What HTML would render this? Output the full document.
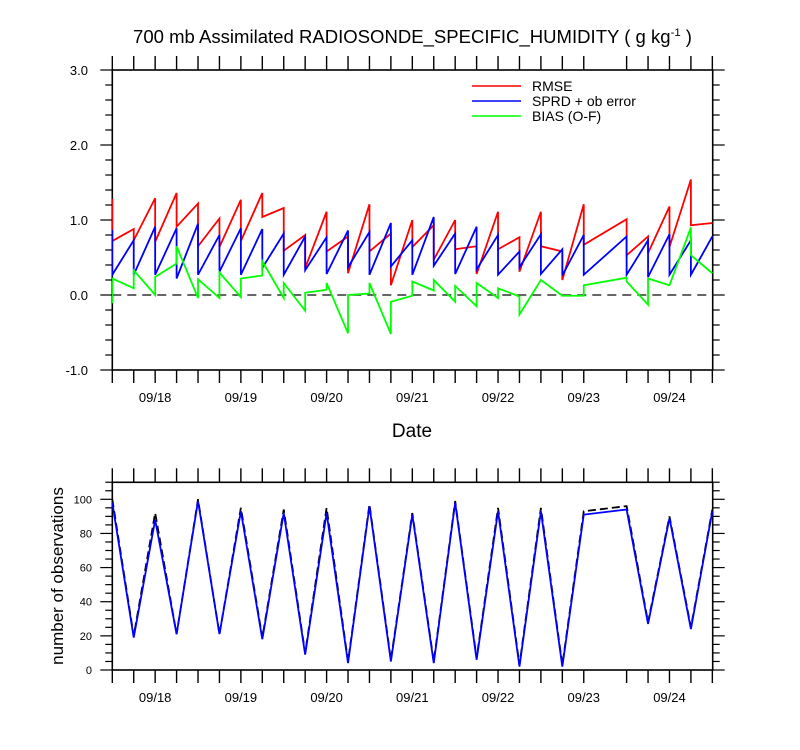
<!DOCTYPE html>
<html><head><meta charset="utf-8"><style>
body{margin:0;background:#fff}
svg{display:block;font-family:"Liberation Sans",sans-serif}
</style></head><body>
<svg id="chart" width="800" height="750" xmlns="http://www.w3.org/2000/svg">
<rect width="800" height="750" fill="#fff"/>
<text x="133" y="43" font-size="18" textLength="559" lengthAdjust="spacingAndGlyphs">700 mb Assimilated RADIOSONDE_SPECIFIC_HUMIDITY ( g kg<tspan font-size="11" dy="-7">-1</tspan><tspan dy="7"> )</tspan></text>
<defs>
<clipPath id="c1"><rect x="112" y="70" width="601" height="300"/></clipPath>
<clipPath id="c2"><rect x="112" y="482" width="601" height="188"/></clipPath>
</defs>
<g id="topPlot"></g>
<g id="botPlot"></g>
<g>
<line x1="472" y1="86" x2="521" y2="86" stroke="#f00" stroke-width="1.5"/>
<text x="532" y="91" font-size="14">RMSE</text>
<line x1="472" y1="101" x2="521" y2="101" stroke="#00f" stroke-width="1.5"/>
<text x="532" y="106" font-size="14">SPRD + ob error</text>
<line x1="472" y1="116" x2="521" y2="116" stroke="#0f0" stroke-width="1.5"/>
<text x="532" y="121" font-size="14">BIAS (O-F)</text>
</g>
<text x="412" y="437" font-size="19" text-anchor="middle">Date</text>
<text transform="translate(63,576) rotate(-90)" font-size="17" text-anchor="middle">number of observations</text>
</svg>
<script>
const times = [0,1,2,3,4,5,6,7,8,9,10,11,12,13,14,15,16,17,18,19,20,21,22,24,25,26,27,28];
const rmseA = [1.28,0.88,1.29,1.36,1.22,1.02,1.27,1.36,1.16,0.80,1.11,0.78,1.21,0.82,1.00,0.93,1.00,0.65,1.11,0.77,1.11,0.58,1.21,1.01,0.78,1.18,1.54,0.96];
const rmseB = [0.72,0.73,0.71,0.91,0.65,0.64,0.72,1.04,0.59,0.36,0.58,0.29,0.58,0.13,0.64,0.47,0.61,0.28,0.61,0.31,0.65,0.20,0.67,0.53,0.56,0.64,0.93,0.96];
const sprdA = [0.87,0.73,0.91,0.89,0.95,0.80,0.89,0.88,0.82,0.78,0.77,0.86,0.84,0.96,0.73,1.04,0.82,0.91,0.80,0.58,0.81,0.61,0.80,0.78,0.73,0.81,0.73,0.78];
const sprdB = [0.27,0.27,0.27,0.22,0.27,0.31,0.27,0.36,0.27,0.33,0.28,0.37,0.27,0.38,0.27,0.39,0.28,0.34,0.27,0.37,0.28,0.26,0.27,0.27,0.24,0.27,0.27,0.78];
const biasA = [-0.11,0.09,0.00,0.42,-0.04,-0.04,-0.03,0.26,-0.04,-0.21,0.07,-0.51,0.02,-0.52,-0.01,0.06,-0.09,-0.15,-0.04,-0.02,0.20,-0.01,-0.01,0.23,-0.13,0.13,0.90,0.29];
const biasB = [0.22,0.33,0.24,0.65,0.21,0.30,0.22,0.45,0.16,0.03,0.16,0.00,0.16,-0.09,0.18,0.20,0.12,0.16,0.09,-0.26,0.20,-0.01,0.13,0.18,0.22,0.13,0.53,0.29];
const countUsed = [98,19,88,21,99,21,93,18,92,9,92,4,96,5,91,4,98,6,93,2,93,2,91,94,27,89,24,93];
const countTotal = [100,20,92,21,100,21,95,19,94,10,95,5,97,6,92,5,99,7,95,3,95,3,93,96,28,90,25,94];
const dateLabels = ["09/18","09/19","09/20","09/21","09/22","09/23","09/24"];
const dateIdx = [2,6,10,14,18,22,26];
const topTicks = [-1,0,1,2,3];
const botTicks = [0,20,40,60,80,100];

const NS="http://www.w3.org/2000/svg";
const X0=112.3, DX=21.43;
const xs = i => X0 + DX*i;
const yTop = v => 295 - 75*v;
const yBot = v => 670 - 1.707*v;
function mk(tag, attrs, parent){const e=document.createElementNS(NS,tag);for(const k in attrs)e.setAttribute(k,attrs[k]);parent.appendChild(e);return e;}

function frame(g, L, T, R, B){
  const r=mk('rect',{x:L,y:T,width:R-L,height:B-T,fill:'none',stroke:'#000','stroke-width':1.6},g);
  
  
  for(let i=0;i<=28;i++){ if(i===23) continue;
    const x=xs(i);
    const t1=mk('line',{x1:x,y1:B,x2:x,y2:B+13,stroke:'#000','stroke-width':1.4},g);
    
    
    const t2=mk('line',{x1:x,y1:T,x2:x,y2:T-14,stroke:'#000','stroke-width':1.4},g);
    
    
  }
  dateIdx.forEach((d,k)=>{
    const t=mk('text',{x:xs(d),y:B+32,'font-size':13,'text-anchor':'middle'},g);
    t.textContent=dateLabels[k];
    
    
  });
}

const topG=document.getElementById('topPlot');
frame(topG,112.3,70,712.7,370);
for(let v=-1;v<=3.0001;v+=0.2){
  const y=yTop(v); const major=Math.abs(v-Math.round(v))<1e-6;
  const len=major?12:7;
  const a=mk('line',{x1:112.3-len,y1:y,x2:112.3,y2:y,stroke:'#000','stroke-width':1.2},topG);
  
  
  const b=mk('line',{x1:712.7,y1:y,x2:712.7+len,y2:y,stroke:'#000','stroke-width':1.2},topG);
  
  
}
topTicks.forEach(v=>{
  const t=mk('text',{x:88,y:yTop(v)+5,'font-size':13,'text-anchor':'end'},topG);
  t.textContent=v.toFixed(1);
  
  
});
const zl=mk('line',{x1:112.3,y1:yTop(0),x2:712.7,y2:yTop(0),stroke:'#333','stroke-width':1.6,'stroke-dasharray':'9,6'},topG);


function pairLine(A,B,color,name){
  const pts=[];
  times.forEach((t,k)=>{pts.push(xs(t)+','+yTop(A[k]));pts.push(xs(t)+','+yTop(B[k]));});
  const p=mk('polyline',{points:pts.join(' '),fill:'none',stroke:color,'stroke-width':1.8,'clip-path':'url(#c1)'},topG);
  
  
}
pairLine(rmseA,rmseB,'#f00','rmse-line');
pairLine(sprdA,sprdB,'#00f','sprd-line');
pairLine(biasA,biasB,'#0f0','bias-line');

const botG=document.getElementById('botPlot');
frame(botG,112.3,482.3,712.7,670);
for(let v=0;v<=110;v+=5){
  const y=yBot(v); const major=v%20===0;
  const len=major?12:7;
  const a=mk('line',{x1:112.3-len,y1:y,x2:112.3,y2:y,stroke:'#000','stroke-width':1.2},botG);
  
  
  const b=mk('line',{x1:712.7,y1:y,x2:712.7+len,y2:y,stroke:'#000','stroke-width':1.2},botG);
  
  
}
botTicks.forEach(v=>{
  const t=mk('text',{x:92,y:yBot(v)+4,'font-size':11,'text-anchor':'end'},botG);
  t.textContent=v;
  
  
});
const p1=mk('polyline',{points:times.map((t,k)=>xs(t)+','+yBot(countTotal[k])).join(' '),fill:'none',stroke:'#000','stroke-width':1.8,'stroke-dasharray':'8,4','clip-path':'url(#c2)'},botG);


const p2=mk('polyline',{points:times.map((t,k)=>xs(t)+','+yBot(countUsed[k])).join(' '),fill:'none',stroke:'#00f','stroke-width':1.8,'clip-path':'url(#c2)'},botG);


</script>
</body></html>
